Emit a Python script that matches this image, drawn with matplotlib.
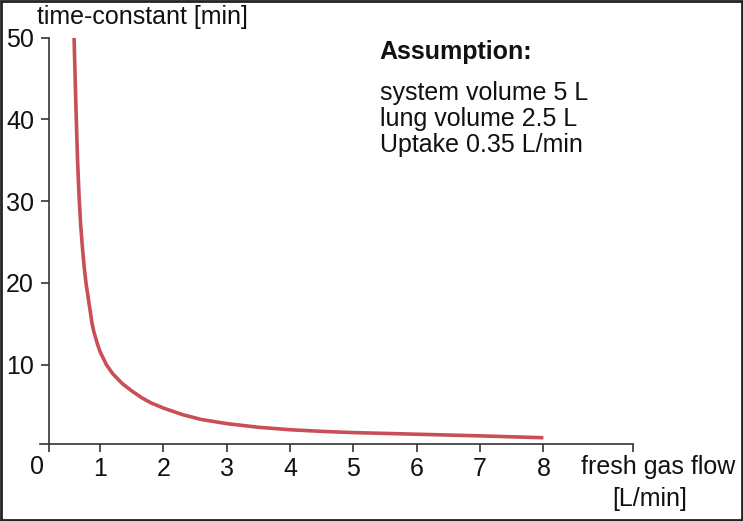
import matplotlib.pyplot as plt
from matplotlib.patches import Rectangle

plt.rcParams['font.family'] = ['Liberation Sans', 'DejaVu Sans']

# values
fresh_gas_flow = [0.59, 0.607, 0.625, 0.645, 0.67, 0.695, 0.72, 0.75, 0.78,
                  0.82, 0.85, 0.87, 0.9, 0.93, 0.96, 1.0, 1.05, 1.1, 1.2,
                  1.35, 1.5, 1.65, 1.8, 2.0, 2.3, 2.6, 3.0, 3.5, 4.0, 4.5,
                  5.0, 6.0, 7.0, 8.0]
time_constant = [50, 45, 40, 35, 30.4, 27, 24.5, 21.9, 19.9,
                 17.8, 16.3, 15.2, 14.1, 13.3, 12.5, 11.6, 10.8, 10.0, 8.9,
                 7.7, 6.8, 6.0, 5.35, 4.7, 3.9, 3.3, 2.8, 2.35, 2.05, 1.85,
                 1.7, 1.5, 1.3, 1.07]
x_ticks = [1, 2, 3, 4, 5, 6, 7, 8]
y_ticks = [10, 20, 30, 40, 50]
notes = ["system volume 5 L", "lung volume 2.5 L", "Uptake 0.35 L/min"]

fig = plt.figure(figsize=(7.43, 5.21), dpi=100)
ax = fig.add_axes([0.0494, 0.143, 0.803, 0.785])
ax.plot(fresh_gas_flow, time_constant, color='#c84e58', lw=2.6,
        solid_capstyle='butt', solid_joinstyle='round')

ax.set_xlim(0, 9.42)
ax.set_ylim(0, 50)
for s in ['top', 'right']:
    ax.spines[s].set_visible(False)
ax.spines['left'].set_position(('data', 0.2))
ax.spines['bottom'].set_position(('data', 0.3))
ax.spines['left'].set_bounds(0.3, 50)
ax.spines['bottom'].set_bounds(0.05, 9.42)
for s in ['left', 'bottom']:
    ax.spines[s].set_color('#333333')
    ax.spines[s].set_linewidth(1.2)

ax.set_xticks([0.2] + x_ticks + [9.42])
ax.set_xticklabels([''] + [str(v) for v in x_ticks] + [''])
ax.set_yticks(y_ticks)
ax.set_yticklabels([str(v) for v in y_ticks])
ax.tick_params(axis='both', length=6, width=1.2, color='#333333',
               labelsize=18, labelcolor='#111111')
ax.tick_params(axis='x', pad=3)
ax.tick_params(axis='y', pad=5)

fig.text(36.7 / 743, 1 - 467 / 521, '0', fontsize=18, ha='center',
         va='center', color='#111111')

fig.text(0.05, 0.967, 'time-constant [min]', fontsize=18, va='center',
         ha='left', color='#111111')
fig.text(0.989, 0.104, 'fresh gas flow', fontsize=18, va='center',
         ha='right', color='#111111')
fig.text(0.875, 0.042, '[L/min]', fontsize=18, va='center',
         ha='center', color='#111111')

fig.text(0.511, 0.9, 'Assumption:', fontsize=18, fontweight='bold',
         va='center', ha='left', color='#111111')
for i, line in enumerate(notes):
    fig.text(0.511, 0.8215 - i * 0.0499, line, fontsize=18, va='center',
             ha='left', color='#111111')

fig.patches.append(Rectangle((0.0015, 0.002), 0.997, 0.996,
                             transform=fig.transFigure, fill=False,
                             edgecolor='#222222', linewidth=2))

fig.savefig('out.png', dpi=100)
